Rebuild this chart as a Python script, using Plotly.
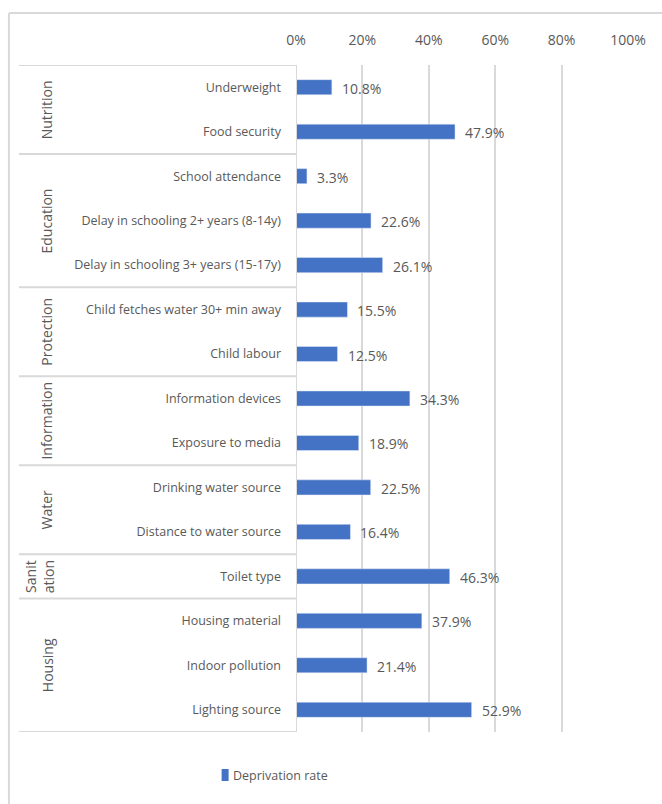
import plotly.graph_objects as go

# Indicator groups (in display order) and how many indicators each holds
groups = ["Nutrition", "Education", "Protection", "Information", "Water", "Sanitation", "Housing"]
group_labels = ["Nutrition", "Education", "Protection", "Information", "Water", "Sanit<br>ation", "Housing"]
group_sizes = [2, 3, 2, 2, 2, 1, 3]

indicators = [
    "Underweight", "Food security",
    "School attendance", "Delay in schooling 2+ years (8-14y)", "Delay in schooling 3+ years (15-17y)",
    "Child fetches water 30+ min away", "Child labour",
    "Information devices", "Exposure to media",
    "Drinking water source", "Distance to water source",
    "Toilet type",
    "Housing material", "Indoor pollution", "Lighting source",
]
rates = [0.108, 0.479, 0.033, 0.226, 0.261, 0.155, 0.125, 0.343, 0.189,
         0.225, 0.164, 0.463, 0.379, 0.214, 0.529]

series_name = "Deprivation rate"
x_ticks = [0, 0.2, 0.4, 0.6, 0.8, 1.0]
x_tick_labels = ["0%", "20%", "40%", "60%", "80%", "100%"]

BAR = "#4472C4"
TXT = "#595959"
LINE = "#D9D9D9"
FONT = "Open Sans"

# plot area in pixels: x from 295.5 (0%) to 628 (100%), y from 65 to 732
PX_L, PX_W = 295.5, 332.5
PX_T, PX_H = 65, 667


def px_x(px):
    return (px - PX_L) / PX_W


def px_y(py):
    return (PX_T + PX_H - py) / PX_H


pos = list(range(len(indicators)))

fig = go.Figure()
fig.add_trace(go.Bar(
    x=rates, y=pos, orientation="h", marker_color=BAR,
    name=series_name, showlegend=False,
))

# value labels next to each bar
for p, r in zip(pos, rates):
    fig.add_annotation(x=r, y=p, xref="x", yref="y", text=f"{r*100:.1f}%",
                       showarrow=False, xanchor="left", yanchor="middle", xshift=8, yshift=-1,
                       font=dict(family=FONT, size=14, color=TXT))

shapes = []
# frame lines between groups, spanning the label column
edges = [-0.5]
for s in group_sizes:
    edges.append(edges[-1] + s)
for e in edges:
    shapes.append(dict(type="line", xref="paper", yref="y", x0=px_x(18), x1=0,
                       y0=e, y1=e, line=dict(color=LINE, width=2)))
# axis line at 0%
shapes.append(dict(type="line", xref="x", yref="y", x0=0, x1=0, y0=-0.5, y1=edges[-1],
                   line=dict(color=LINE, width=2)))
# outer chart border (top and left)
shapes.append(dict(type="line", xref="paper", yref="paper", x0=px_x(8), x1=px_x(700),
                   y0=px_y(13), y1=px_y(13), line=dict(color=LINE, width=2)))
shapes.append(dict(type="line", xref="paper", yref="paper", x0=px_x(8), x1=px_x(8),
                   y0=px_y(13), y1=px_y(850), line=dict(color=LINE, width=2)))

# legend key: swatch plus series name
shapes.append(dict(type="rect", xref="paper", yref="paper",
                   x0=px_x(221), x1=px_x(228), y0=px_y(769), y1=px_y(781),
                   fillcolor=BAR, line=dict(width=0)))
fig.add_annotation(x=px_x(230), y=px_y(775), xref="paper", yref="paper",
                   text=series_name, showarrow=False, xanchor="left", yanchor="middle",
                   font=dict(family=FONT, size=12.5, color=TXT))

# rotated group names
for i, (g, lab) in enumerate(zip(groups, group_labels)):
    mid = (edges[i] + edges[i + 1]) / 2
    xpx = 38 if "<br>" in lab else 46
    fig.add_annotation(x=px_x(xpx), y=mid, xref="paper", yref="y",
                       text=lab, textangle=-90, showarrow=False,
                       xanchor="center", yanchor="middle",
                       font=dict(family=FONT, size=14, color=TXT))

fig.update_layout(
    width=662, height=804,
    margin=dict(l=PX_L, r=662 - PX_L - PX_W, t=PX_T, b=804 - PX_T - PX_H),
    paper_bgcolor="white", plot_bgcolor="white",
    bargap=0.66,
    shapes=shapes,
    font=dict(family=FONT, color=TXT),
    showlegend=False,
    xaxis=dict(side="top", range=[0, 1.0], tickvals=x_ticks, ticktext=x_tick_labels,
               showgrid=True, gridcolor=LINE, gridwidth=2, zeroline=False,
               showline=False, ticks="", ticklabelstandoff=16,
               tickfont=dict(family=FONT, size=14, color=TXT), fixedrange=True),
    yaxis=dict(range=[edges[-1], -0.5], tickvals=pos, ticktext=indicators,
               showgrid=False, zeroline=False, showline=False, ticks="",
               ticklabelstandoff=14,
               tickfont=dict(family=FONT, size=12.5, color=TXT)),
)

fig.write_html("out.html")
